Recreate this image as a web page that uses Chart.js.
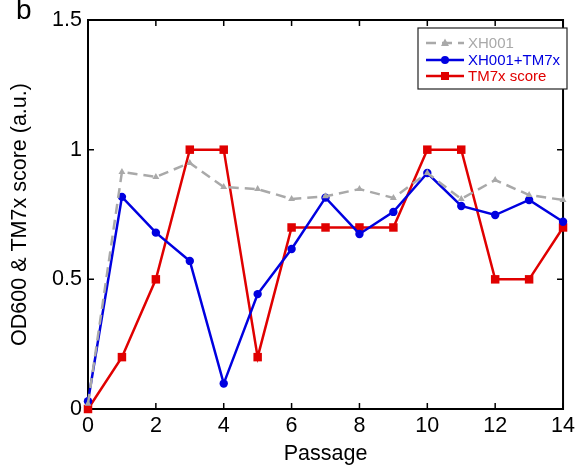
<!DOCTYPE html>
<html>
<head>
<meta charset="utf-8">
<script src="https://cdn.jsdelivr.net/npm/chart.js@4"></script>
<style>
  html, body { margin: 0; padding: 0; background: #fff; }
  #wrap { width: 579px; height: 470px; }
</style>
</head>
<body>
<div id="wrap"><canvas id="chart" width="579" height="470"></canvas></div>
<script>
const passages = [0, 1, 2, 3, 4, 5, 6, 7, 8, 9, 10, 11, 12, 13, 14];
const xh001 = [0.02, 0.914, 0.895, 0.949, 0.856, 0.848, 0.81, 0.82, 0.848, 0.814, 0.91, 0.81, 0.883, 0.825, 0.806];
const xh001Tm7x = [0.03, 0.818, 0.68, 0.571, 0.098, 0.443, 0.617, 0.815, 0.675, 0.76, 0.91, 0.783, 0.748, 0.806, 0.722];
const tm7xScore = [0, 0.2, 0.5, 1, 1, 0.2, 0.7, 0.7, 0.7, 0.7, 1, 1, 0.5, 0.5, 0.7];
const xTicks = [0, 2, 4, 6, 8, 10, 12, 14];
const yTicks = [0, 0.5, 1, 1.5];

const FONT = 'Liberation Sans, Arial, sans-serif';
const GRAY = '#a9a9a9';
const BLUE = '#0000e0';
const RED = '#e00000';

function toPoints(values) {
    return passages.map((p, i) => ({ x: p, y: values[i] }));
}

// frame, inward ticks, panel letter and legend box
const framePlugin = {
    id: 'frame',
    beforeDatasetsDraw(chart) {
        const ctx = chart.ctx;
        const area = chart.chartArea;
        const xs = chart.scales.x;
        const ys = chart.scales.y;
        ctx.save();
        ctx.strokeStyle = '#000';
        ctx.lineWidth = 2;
        ctx.strokeRect(area.left, area.top, area.right - area.left, area.bottom - area.top);
        ctx.lineWidth = 1.5;
        ctx.beginPath();
        xTicks.forEach(v => {
            const px = xs.getPixelForValue(v);
            ctx.moveTo(px, area.bottom); ctx.lineTo(px, area.bottom - 6);
            ctx.moveTo(px, area.top); ctx.lineTo(px, area.top + 6);
        });
        yTicks.forEach(v => {
            const py = ys.getPixelForValue(v);
            ctx.moveTo(area.left, py); ctx.lineTo(area.left + 6, py);
            ctx.moveTo(area.right, py); ctx.lineTo(area.right - 6, py);
        });
        ctx.stroke();
        ctx.restore();
    },
    afterDatasetsDraw(chart) {
        const ctx = chart.ctx;
        ctx.save();
        // panel letter
        ctx.fillStyle = '#000';
        ctx.font = '28px ' + FONT;
        ctx.textBaseline = 'alphabetic';
        ctx.textAlign = 'left';
        ctx.fillText('b', 16, 19);

        // legend
        const box = { left: 418, top: 28, right: 567, bottom: 89 };
        ctx.fillStyle = '#fff';
        ctx.fillRect(box.left, box.top, box.right - box.left, box.bottom - box.top);
        ctx.strokeStyle = '#222';
        ctx.lineWidth = 1.2;
        ctx.strokeRect(box.left, box.top, box.right - box.left, box.bottom - box.top);
        const rows = [43, 60, 76];
        chart.data.datasets.forEach((ds, i) => {
            const y = rows[i];
            ctx.save();
            ctx.strokeStyle = ds.borderColor;
            ctx.lineWidth = ds.borderWidth;
            ctx.setLineDash(ds.borderDash || []);
            ctx.beginPath();
            ctx.moveTo(426, y); ctx.lineTo(464, y);
            ctx.stroke();
            ctx.setLineDash([]);
            ctx.fillStyle = ds.pointBackgroundColor;
            if (ds.pointStyle === 'rect') {
                ctx.fillRect(441, y - 4, 8, 8);
            } else if (ds.pointStyle === 'triangle') {
                ctx.beginPath();
                ctx.moveTo(445, y - 4.5);
                ctx.lineTo(449, y + 3);
                ctx.lineTo(441, y + 3);
                ctx.closePath();
                ctx.fill();
            } else {
                ctx.beginPath();
                ctx.arc(445, y, 4, 0, Math.PI * 2);
                ctx.fill();
            }
            ctx.fillStyle = ds.borderColor;
            ctx.font = '15px ' + FONT;
            ctx.textBaseline = 'middle';
            ctx.fillText(ds.label, 468, y + 1);
            ctx.restore();
        });
        ctx.restore();
    }
};

new Chart(document.getElementById('chart'), {
    type: 'line',
    data: {
        datasets: [
            {
                label: 'XH001',
                data: toPoints(xh001),
                borderColor: GRAY,
                backgroundColor: GRAY,
                pointBackgroundColor: GRAY,
                borderWidth: 2.5,
                borderDash: [10, 6],
                pointStyle: 'triangle',
                pointRadius: 4,
                pointBorderWidth: 0,
                clip: false,
                tension: 0
            },
            {
                label: 'XH001+TM7x',
                data: toPoints(xh001Tm7x),
                borderColor: BLUE,
                backgroundColor: BLUE,
                pointBackgroundColor: BLUE,
                borderWidth: 2.5,
                pointStyle: 'circle',
                pointRadius: 4.2,
                pointBorderWidth: 0,
                clip: false,
                tension: 0
            },
            {
                label: 'TM7x score',
                data: toPoints(tm7xScore),
                borderColor: RED,
                backgroundColor: RED,
                pointBackgroundColor: RED,
                borderWidth: 2.5,
                pointStyle: 'rect',
                pointRadius: 6,
                pointBorderWidth: 0,
                clip: false,
                tension: 0
            }
        ]
    },
    options: {
        responsive: false,
        animation: false,
        layout: { padding: { top: 20, right: 9, left: 0, bottom: 0 } },
        plugins: {
            legend: { display: false },
            tooltip: { enabled: false }
        },
        scales: {
            x: {
                type: 'linear',
                min: 0,
                max: 14,
                afterFit: scale => { scale.height = 61; },
                afterBuildTicks: scale => { scale.ticks = xTicks.map(v => ({ value: v })); },
                grid: { display: false, drawTicks: false },
                border: { display: false },
                ticks: { color: '#000', font: { family: FONT, size: 21.5 }, padding: 4, maxRotation: 0 },
                title: { display: true, text: 'Passage', color: '#000', font: { family: FONT, size: 21.5 }, padding: { top: 0, bottom: 3 } }
            },
            y: {
                min: 0,
                max: 1.5,
                afterFit: scale => { scale.width = 88; },
                afterBuildTicks: scale => { scale.ticks = yTicks.map(v => ({ value: v })); },
                grid: { display: false, drawTicks: false },
                border: { display: false },
                ticks: {
                    color: '#000', font: { family: FONT, size: 21.5 }, padding: 6,
                    callback: v => String(v)
                },
                title: { display: true, text: 'OD600 & TM7x score (a.u.)', color: '#000', font: { family: FONT, size: 21.5 }, padding: { top: 7, bottom: 0 } }
            }
        }
    },
    plugins: [framePlugin]
});
</script>
</body>
</html>
